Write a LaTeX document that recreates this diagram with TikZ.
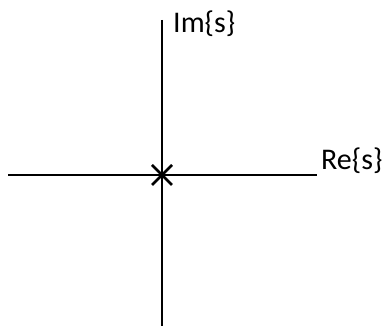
\documentclass[tikz,border=0pt]{standalone}
\usepackage{fontspec}
\setmainfont{Carlito}
\usetikzlibrary{calc}
\begin{document}
\begin{tikzpicture}[x=1pt,y=-1pt,
  axis/.style={line width=2.8pt},
  lbl/.style={font=\fontsize{30}{34}\selectfont, inner sep=0pt, anchor=base west}]
\useasboundingbox (0,0) rectangle (384,326);
\coordinate (L) at (8,175);
\coordinate (R) at (317,175);
\coordinate (T) at (162,20);
\coordinate (B) at (162,326);
\coordinate (O) at (162,175);
\draw[axis] (L) -- (R);
\draw[axis] (T) -- (B);
\draw[axis] ($(O)+(-10,-10)$) -- ($(O)+(10,10)$);
\draw[axis] ($(O)+(-10,10)$) -- ($(O)+(10,-10)$);
\node[lbl] (im) at (173,33) {Im\{s\}};
\node[lbl] (re) at (321,170) {Re\{s\}};
\end{tikzpicture}
\end{document}
